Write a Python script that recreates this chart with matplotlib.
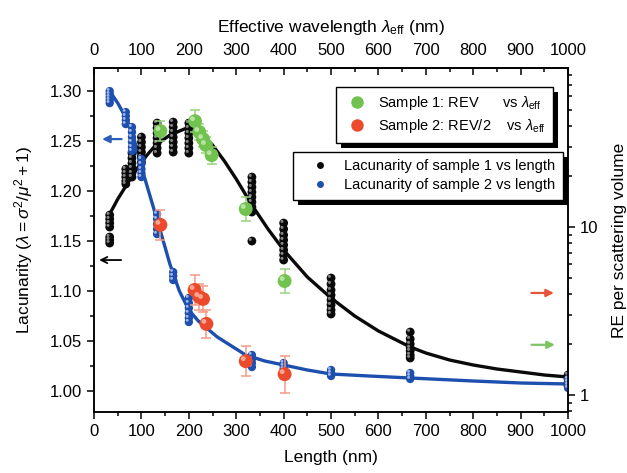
import numpy as np
import matplotlib
matplotlib.use('Agg')
import matplotlib.pyplot as plt
from matplotlib.transforms import ScaledTranslation, IdentityTransform
from matplotlib.patches import Rectangle
from matplotlib.lines import Line2D
from matplotlib.ticker import MultipleLocator, FixedLocator, FuncFormatter, NullFormatter

plt.rcParams['font.family'] = ['Liberation Sans', 'DejaVu Sans']
plt.rcParams['mathtext.fontset'] = 'custom'
plt.rcParams['mathtext.rm'] = 'Liberation Sans'
plt.rcParams['mathtext.it'] = 'Liberation Sans:italic'
plt.rcParams['mathtext.bf'] = 'Liberation Sans:bold'

# ---------------- data ----------------
lengths = [33, 67, 80, 100, 133, 167, 200, 333, 400, 500, 667, 1000]

lac_s1 = [
    [1.176, 1.172, 1.168, 1.164, 1.154, 1.151, 1.148],
    [1.222, 1.218, 1.214, 1.210, 1.207],
    [1.238, 1.233, 1.228, 1.223, 1.218, 1.214],
    [1.254, 1.249, 1.244, 1.239, 1.234, 1.229],
    [1.268, 1.263, 1.258, 1.253, 1.248, 1.243, 1.238],
    [1.269, 1.264, 1.259, 1.254, 1.249, 1.244, 1.239],
    [1.268, 1.263, 1.258, 1.253, 1.248, 1.243, 1.238],
    [1.214, 1.209, 1.204, 1.199, 1.194, 1.189, 1.184, 1.179, 1.150],
    [1.168, 1.162, 1.156, 1.151, 1.146, 1.141, 1.136, 1.131],
    [1.113, 1.107, 1.101, 1.096, 1.091, 1.086, 1.081, 1.077],
    [1.059, 1.052, 1.047, 1.043, 1.040, 1.036, 1.033],
    [1.016, 1.012, 1.008, 1.005],
]

lac_s2 = [
    [1.300, 1.297, 1.294, 1.291, 1.288],
    [1.279, 1.275, 1.271, 1.267],
    [1.264, 1.259, 1.254, 1.249, 1.244, 1.240],
    [1.232, 1.227, 1.222, 1.218, 1.214],
    [1.177, 1.172, 1.167, 1.162, 1.157],
    [1.119, 1.115, 1.111],
    [1.093, 1.088, 1.083, 1.078, 1.073, 1.069],
    [1.036, 1.032, 1.028, 1.024],
    [1.028, 1.025, 1.022],
    [1.021, 1.018, 1.015],
    [1.018, 1.015, 1.012],
    [1.012, 1.009, 1.006, 1.003],
]

fit_s1_x = [33, 50, 75, 90, 110, 130, 160, 190, 210, 230, 250, 275, 300, 333, 367, 400,
            450, 500, 550, 600, 667, 700, 750, 800, 850, 900, 950, 1000]
fit_s1_y = [1.177, 1.192, 1.211, 1.222, 1.235, 1.246, 1.256, 1.262, 1.262, 1.256, 1.246,
            1.230, 1.212, 1.186, 1.162, 1.141, 1.114, 1.093, 1.075, 1.060, 1.044, 1.038,
            1.031, 1.026, 1.022, 1.019, 1.016, 1.014]

fit_s2_x = [33, 50, 70, 85, 100, 120, 140, 160, 180, 200, 220, 240, 260, 280, 320, 360,
            400, 450, 500, 580, 667, 800, 900, 1000]
fit_s2_y = [1.300, 1.288, 1.271, 1.251, 1.224, 1.192, 1.160, 1.127, 1.100, 1.081, 1.070,
            1.062, 1.054, 1.048, 1.036, 1.030, 1.026, 1.021, 1.017, 1.015, 1.013, 1.010,
            1.008, 1.007]

wl_rev1 = [140, 213, 222, 230, 236, 248, 320, 402]
rev1 = [37.3, 42.7, 36.8, 33.4, 30.8, 26.8, 12.8, 4.77]
rev1_err_dec = [0.06, 0.065, 0.05, 0.05, 0.05, 0.05, 0.07, 0.07]

wl_rev2 = [140, 212, 222, 230, 237, 320, 402]
rev2 = [10.3, 4.22, 3.83, 3.73, 2.65, 1.59, 1.33]
rev2_err_dec = [0.09, 0.09, 0.08, 0.08, 0.085, 0.09, 0.11]

xticks = [0, 100, 200, 300, 400, 500, 600, 700, 800, 900, 1000]
yticks = [1.00, 1.05, 1.10, 1.15, 1.20, 1.25, 1.30]

# ---------------- styles ----------------
C_BLACK = '#0a0a0a'
C_BLUE = '#1d4fae'
C_GREEN = '#72c250'
C_RED = '#ec4a2c'
C_GREEN_E = '#97d47e'
C_RED_E = '#f29a85'

fig = plt.figure(figsize=(6.27, 4.73), dpi=100)
ax = fig.add_axes([0.150, 0.129, 0.756, 0.727])
ax2 = ax.twinx()

def flat(xs, groups):
    X = np.concatenate([[x] * len(g) for x, g in zip(xs, groups)])
    Y = np.concatenate([np.array(g, float) for g in groups])
    return X, Y

def sphere(axis, x, y, color, hl, s, z, off=1.2):
    axis.scatter(x, y, s=s, color=color, edgecolors='none', zorder=z)
    tr = axis.transData + ScaledTranslation(-off / 72, off / 72, fig.dpi_scale_trans)
    axis.scatter(x, y, s=s * 0.12, color=hl, edgecolors='none', zorder=z + 0.1,
                 transform=tr, alpha=0.85)

# fit curves
ax.plot(fit_s1_x, fit_s1_y, color=C_BLACK, lw=2.4, zorder=2, solid_joinstyle='round')
ax.plot(fit_s2_x, fit_s2_y, color=C_BLUE, lw=2.4, zorder=2.5, solid_joinstyle='round')

x1, y1 = flat(lengths, lac_s1)
x2, y2 = flat(lengths, lac_s2)
sphere(ax, x1, y1, C_BLACK, '#9a9a9a', 40, 3)
sphere(ax, x2, y2, C_BLUE, '#b9c8ee', 36, 3.5)

# REV points on the log axis
def errs(v, d):
    v = np.array(v); d = np.array(d)
    return np.vstack([v - v / 10 ** d, v * 10 ** d - v])

ax2.errorbar(wl_rev1, rev1, yerr=errs(rev1, rev1_err_dec), fmt='none', ecolor=C_GREEN_E,
             elinewidth=1.1, capsize=3.5, capthick=1.1, zorder=3)
ax2.errorbar(wl_rev2, rev2, yerr=errs(rev2, rev2_err_dec), fmt='none', ecolor=C_RED_E,
             elinewidth=1.1, capsize=3.5, capthick=1.1, zorder=3)
sphere(ax2, wl_rev1, rev1, C_GREEN, '#c4ebb0', 100, 4, off=1.8)
sphere(ax2, wl_rev2, rev2, C_RED, '#f9b7a5', 100, 4, off=1.8)

# axes limits and scales
ax.set_xlim(0, 1000)
ax.set_ylim(0.979, 1.323)
ax2.set_yscale('log')
ax2.set_ylim(0.792, 88.4)

ax.xaxis.set_major_locator(FixedLocator(xticks))
ax.xaxis.set_minor_locator(MultipleLocator(50))
ax.yaxis.set_major_locator(FixedLocator(yticks))
ax.yaxis.set_minor_locator(MultipleLocator(0.025))
ax.yaxis.set_major_formatter(FuncFormatter(lambda v, p: f'{v:.2f}'))

ax2.yaxis.set_major_locator(FixedLocator([1, 10]))
ax2.yaxis.set_major_formatter(FuncFormatter(lambda v, p: f'{v:g}'))
ax2.yaxis.set_minor_locator(FixedLocator([0.8, 0.9] + list(range(2, 10)) + list(range(20, 90, 10))))
ax2.yaxis.set_minor_formatter(NullFormatter())

secx = ax.secondary_xaxis('top')
secx.xaxis.set_major_locator(FixedLocator(xticks))
secx.xaxis.set_minor_locator(MultipleLocator(50))
secx.tick_params(which='major', direction='in', length=5, width=1.1, labelsize=12, pad=7)
secx.tick_params(which='minor', direction='in', length=3, width=1.1)
secx.set_xlabel(r'Effective wavelength $\lambda_{\rm eff}$ (nm)', fontsize=12.5, labelpad=8)

for a in (ax, ax2):
    a.tick_params(which='major', direction='out', length=5, width=1.1, labelsize=12)
    a.tick_params(which='minor', direction='out', length=3, width=1.1)
ax.tick_params(axis='x', which='both', top=False)
for s in list(ax.spines.values()) + list(ax2.spines.values()) + list(secx.spines.values()):
    s.set_linewidth(1.1)

ax.set_xlabel('Length (nm)', fontsize=12.5, labelpad=8)
ax.set_ylabel(r'Lacunarity ($\lambda = \sigma^2/\mu^2 + 1$)', fontsize=12.5, labelpad=11)
ax2.set_ylabel('RE per scattering volume', fontsize=12.5, labelpad=10)

# arrows
ax.annotate('', xy=(11, 1.252), xytext=(64, 1.252),
            arrowprops=dict(arrowstyle='-|>', color='#2c5fb5', lw=1.6, mutation_scale=11))
ax.annotate('', xy=(5, 1.131), xytext=(63, 1.131),
            arrowprops=dict(arrowstyle='->', color='black', lw=1.3, mutation_scale=11))
ax2.annotate('', xy=(976, 4.05), xytext=(917, 4.05),
             arrowprops=dict(arrowstyle='-|>', color='#e5553c', lw=1.6, mutation_scale=11))
ax2.annotate('', xy=(978, 1.99), xytext=(917, 1.99),
             arrowprops=dict(arrowstyle='-|>', color='#7cc363', lw=1.6, mutation_scale=11))

# legends
h_s1 = Line2D([], [], ls='none', marker='o', ms=5, color=C_BLACK, mec='none')
h_s2 = Line2D([], [], ls='none', marker='o', ms=5, color=C_BLUE, mec='none')
h_r1 = Line2D([], [], ls='none', marker='o', ms=9, color=C_GREEN, mec='none')
h_r2 = Line2D([], [], ls='none', marker='o', ms=9, color=C_RED, mec='none')

leg2 = ax.legend([h_s1, h_s2], ['Lacunarity of sample 1 vs length', 'Lacunarity of sample 2 vs length'],
                 loc='upper right', bbox_to_anchor=(0.989, 0.756), borderaxespad=0,
                 fontsize=10.5, frameon=True, fancybox=False, edgecolor='black',
                 framealpha=1, handletextpad=0.4, handlelength=2.6, labelspacing=0.35,
                 borderpad=0.5)
leg2.get_frame().set_linewidth(1.0)
leg2.set_zorder(10)

leg1 = ax2.legend([h_r1, h_r2], [r'Sample 1: REV      vs $\lambda_{\rm eff}$',
                                 r'Sample 2: REV/2    vs $\lambda_{\rm eff}$'],
                  loc='upper right', bbox_to_anchor=(0.968, 0.945), borderaxespad=0,
                  fontsize=10.5, frameon=True, fancybox=False, edgecolor='black',
                  framealpha=1, handletextpad=0.4, handlelength=2.0, labelspacing=0.35,
                  borderpad=0.5)
leg1.get_frame().set_linewidth(1.0)
leg1.set_zorder(10)

# black offset shadows behind the legend boxes
fig.canvas.draw()
for a, lg in ((ax, leg2), (ax2, leg1)):
    bb = lg.get_frame().get_window_extent(fig.canvas.get_renderer())
    a.add_patch(Rectangle((bb.x0 + 5, bb.y0 - 5), bb.width, bb.height,
                          transform=IdentityTransform(), facecolor='black',
                          edgecolor='none', zorder=9, clip_on=False))

fig.savefig('out.png', dpi=100)
